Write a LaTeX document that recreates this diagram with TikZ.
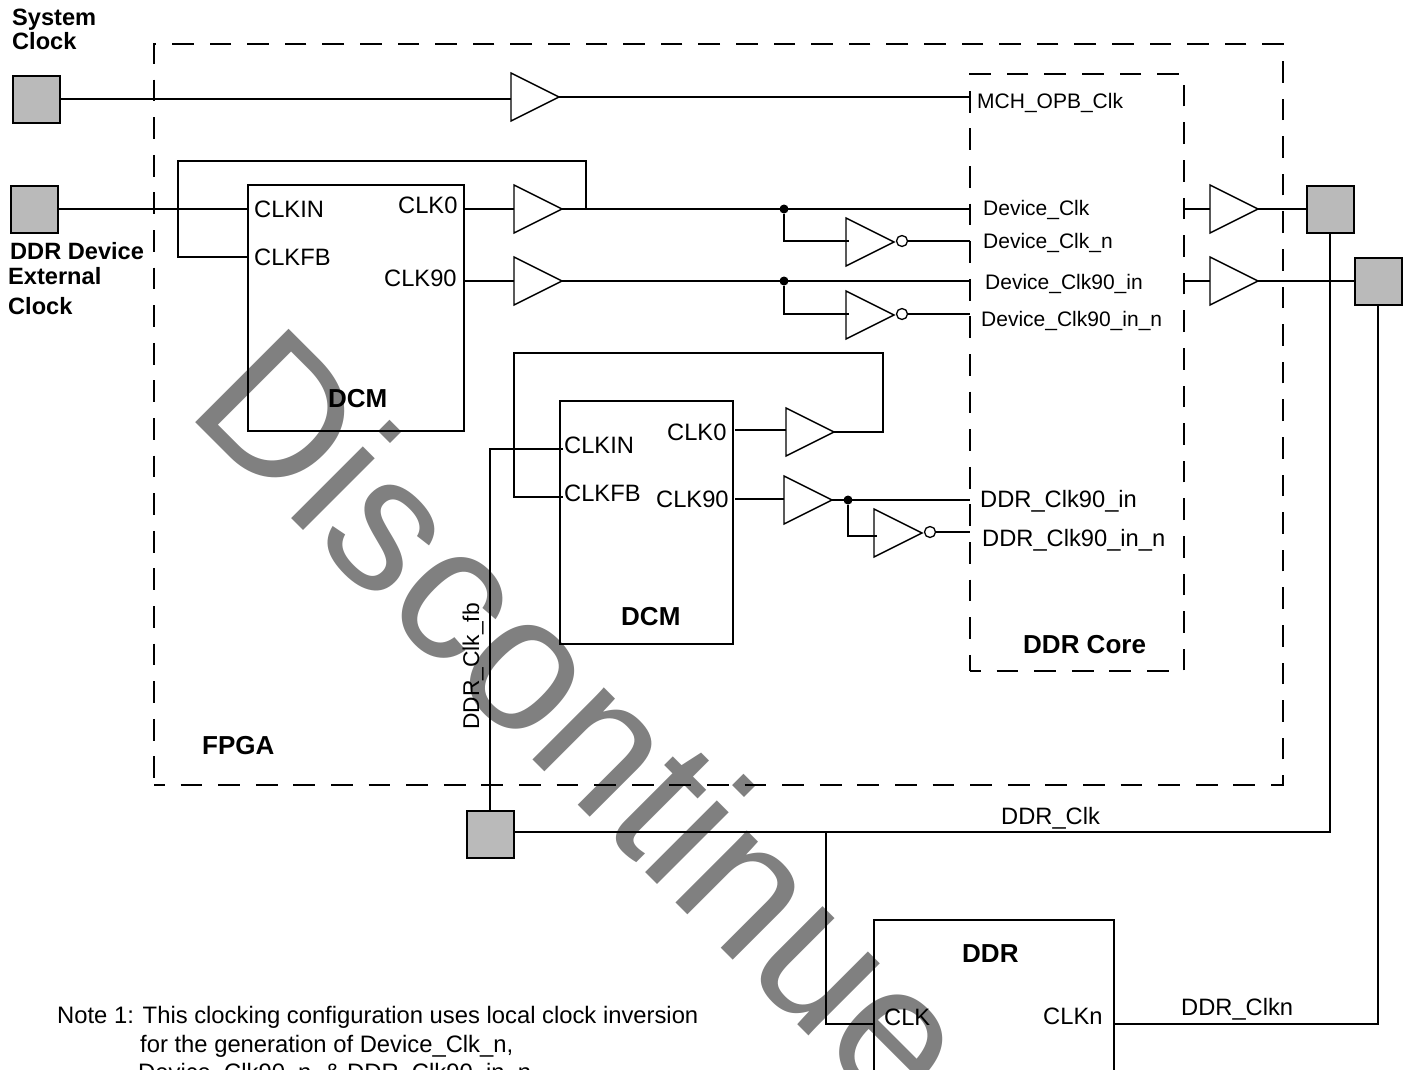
\documentclass[tikz,border=0pt]{standalone}
\usepackage{fontspec}
\setmainfont{Liberation Sans}
\usetikzlibrary{positioning,shapes.geometric}

\begin{document}
\begin{tikzpicture}[
  x=1pt, y=-1pt,
  wire/.style={line width=1.8pt},
  pad/.style={draw, line width=2pt, fill=black!27, minimum size=47pt, inner sep=0pt, outer sep=0pt},
  block/.style={draw, line width=1.8pt, anchor=north west, inner sep=0pt, outer sep=0pt},
  zone/.style={draw, line width=1.8pt, dash pattern=on 21.7pt off 15.9pt, dash phase=11pt,
               anchor=north west, inner sep=0pt, outer sep=0pt},
  buf/.style={draw, line width=1.4pt, isosceles triangle, isosceles triangle stretches,
              shape border rotate=0, minimum width=48pt, minimum height=48pt,
              inner sep=0pt, outer sep=0pt, anchor=lower side},
  bubble/.style={draw, line width=1.3pt, circle, minimum size=11pt, inner sep=0pt, outer sep=0pt},
  joint/.style={fill, circle, minimum size=9pt, inner sep=0pt},
  sig/.style={font=\fontsize{21}{24}\selectfont, anchor=base west, inner sep=0pt},
  pin/.style={font=\fontsize{23.7}{26}\selectfont, anchor=base west, inner sep=0pt},
  padlabel/.style={font=\fontsize{23.6}{26}\selectfont\bfseries, anchor=base west, inner sep=0pt},
  title/.style={font=\fontsize{26}{30}\selectfont\bfseries, anchor=base west, inner sep=0pt},
  notetext/.style={font=\fontsize{23.8}{26}\selectfont, anchor=base west, inner sep=0pt}]
  \path[use as bounding box, clip] (0,0) rectangle (1408,1069);

  \node[anchor=base west, inner sep=0pt, rotate=-45, text=black!50,
        font=\fontsize{192}{192}\selectfont] (stamp) at (184,411) {Discontinue};

  \node[zone, minimum width=1129pt, minimum height=741pt] (fpga) at (154,44) {};
  \node[zone, minimum width=214pt, minimum height=597pt] (core) at (970,74) {};

  \node[block, minimum width=216pt, minimum height=246pt] (dcmone) at (248,185) {};
  \node[block, minimum width=173pt, minimum height=243pt] (dcmtwo) at (560,401) {};
  \node[block, minimum width=240pt, minimum height=260pt] (ddr) at (874,920) {};

  \node[pad] (padsys) at (36,99) {};
  \node[pad] (padext) at (34,209) {};
  \node[pad] (padclk) at (1330,209) {};
  \node[pad] (padclkn) at (1378,281) {};
  \node[pad] (padfb) at (490,834) {};

  \node[buf] (bufsys) at (511,97) {};
  \node[buf] (bufzero) at (514,209) {};
  \node[buf] (bufninety) at (514,281) {};
  \node[buf] (bufzerob) at (786,432) {};
  \node[buf] (bufninetyb) at (784,500) {};
  \node[buf] (bufclk) at (1210,209) {};
  \node[buf] (bufclkn) at (1210,281) {};
  \node[buf] (invzero) at (846,242) {};
  \node[buf] (invninety) at (846,315) {};
  \node[buf] (invninetyb) at (874,533) {};
  \node[bubble] (bubzero) at (902,241) {};
  \node[bubble] (bubninety) at (902,314) {};
  \node[bubble] (bubninetyb) at (930,532) {};

  \node[joint] (jointzero) at (784,209) {};
  \node[joint] (jointninety) at (784,281) {};
  \node[joint] (jointb) at (848,500) {};

  \coordinate (tapone) at (586,209);
  \coordinate (loopone) at (178,161);
  \coordinate (fbone) at (249,257);
  \coordinate (looptwo) at (883,353);
  \coordinate (turntwo) at (514,497);
  \coordinate (fbtwo) at (563,497);
  \coordinate (intwo) at (490,449);
  \coordinate (inend) at (563,449);
  \coordinate (clkzerob) at (735,430);
  \coordinate (clkninetyb) at (735,499);
  \coordinate (feedzero) at (849,241);
  \coordinate (feedninety) at (849,314);
  \coordinate (feedb) at (877,536);
  \coordinate (ddrin) at (874,1024);
  \coordinate (ddrout) at (1114,1024);
  \coordinate (branch) at (826,832);
  \coordinate (railclk) at (1330,832);
  \coordinate (railclkn) at (1378,1024);

  \draw[wire] (padsys.east) -- (bufsys.lower side |- padsys.east);
  \draw[wire] (bufsys.apex) -- (core.west |- bufsys.apex);
  \draw[wire] (padext.east) -- (dcmone.west |- padext.east);
  \draw[wire] (tapone) |- (loopone) |- (fbone);
  \draw[wire] (dcmone.east |- bufzero.lower side) -- (bufzero.lower side);
  \draw[wire] (dcmone.east |- bufninety.lower side) -- (bufninety.lower side);
  \draw[wire] (bufzero.apex) -- (core.west |- bufzero.apex);
  \draw[wire] (bufninety.apex) -- (core.west |- bufninety.apex);
  \draw[wire] (jointzero) |- (feedzero);
  \draw[wire] (jointninety) |- (feedninety);
  \draw[wire] (bubzero.east) -- (core.west |- bubzero.east);
  \draw[wire] (bubninety.east) -- (core.west |- bubninety.east);

  \draw[wire] (clkzerob) -- (bufzerob.lower side |- clkzerob);
  \draw[wire] (clkninetyb) -- (bufninetyb.lower side |- clkninetyb);
  \draw[wire] (bufzerob.apex) -| (looptwo) -| (turntwo) -- (fbtwo);
  \draw[wire] (bufninetyb.apex) -- (core.west |- bufninetyb.apex);
  \draw[wire] (jointb) |- (feedb);
  \draw[wire] (bubninetyb.east) -- (core.west |- bubninetyb.east);
  \draw[wire] (inend) -- (intwo) -- (padfb.north);

  \draw[wire] (core.east |- bufclk.lower side) -- (bufclk.lower side);
  \draw[wire] (core.east |- bufclkn.lower side) -- (bufclkn.lower side);
  \draw[wire] (bufclk.apex) -- (padclk.west);
  \draw[wire] (bufclkn.apex) -- (padclkn.west);
  \draw[wire] (padfb.east |- railclk) -- (railclk) -- (padclk.south);
  \draw[wire] (branch) |- (ddrin);
  \draw[wire] (ddrout) -- (railclkn) -- (padclkn.south);

  \node[padlabel] (lblsysa) at (12,25) {System};
  \node[padlabel] (lblsysb) at (12,49) {Clock};
  \node[padlabel] (lblexta) at (10,259) {DDR Device};
  \node[padlabel] (lblextb) at (8,284) {External};
  \node[padlabel] (lblextc) at (8,314) {Clock};

  \node[pin] (pinin) at (254,217) {CLKIN};
  \node[pin] (pinfb) at (254,265) {CLKFB};
  \node[pin] (pinzero) at (398,213) {CLK0};
  \node[pin] (pinninety) at (384,286) {CLK90};
  \node[pin] (pininb) at (564,453) {CLKIN};
  \node[pin] (pinfbb) at (564,501) {CLKFB};
  \node[pin] (pinzerob) at (667,440) {CLK0};
  \node[pin] (pinninetyb) at (656,507) {CLK90};
  \node[pin] (pinddr) at (884,1025) {CLK};
  \node[pin] (pinddrn) at (1043,1024) {CLKn};

  \node[sig] (sigmch) at (977,108) {MCH\_OPB\_Clk};
  \node[sig] (sigdev) at (983,215) {Device\_Clk};
  \node[sig] (sigdevn) at (983,248) {Device\_Clk\_n};
  \node[sig] (signinety) at (985,289) {Device\_Clk90\_in};
  \node[sig] (signinetyn) at (981,326) {Device\_Clk90\_in\_n};
  \node[pin] (sigddr) at (980,507) {DDR\_Clk90\_in};
  \node[pin] (sigddrn) at (982,546) {DDR\_Clk90\_in\_n};
  \node[pin, font=\fontsize{22.8}{26}\selectfont, rotate=90] (sigfb) at (479,730) {DDR\_Clk\_fb};
  \node[pin] (sigclk) at (1001,824) {DDR\_Clk};
  \node[pin] (sigclkn) at (1181,1015) {DDR\_Clkn};

  \node[title] (ttldcm) at (328,407) {DCM};
  \node[title] (ttldcmb) at (621,625) {DCM};
  \node[title] (ttlcore) at (1023,653) {DDR Core};
  \node[title] (ttlfpga) at (202,754) {FPGA};
  \node[title] (ttlddr) at (962,962) {DDR};

  \node[notetext] (notea) at (57,1023) {Note 1: This clocking configuration uses local clock inversion};
  \node[notetext] (noteb) at (140,1052) {for the generation of Device\_Clk\_n,};
  \node[notetext] (notec) at (138,1080) {Device\_Clk90\_n, \& DDR\_Clk90\_in\_n};
\end{tikzpicture}
\end{document}
